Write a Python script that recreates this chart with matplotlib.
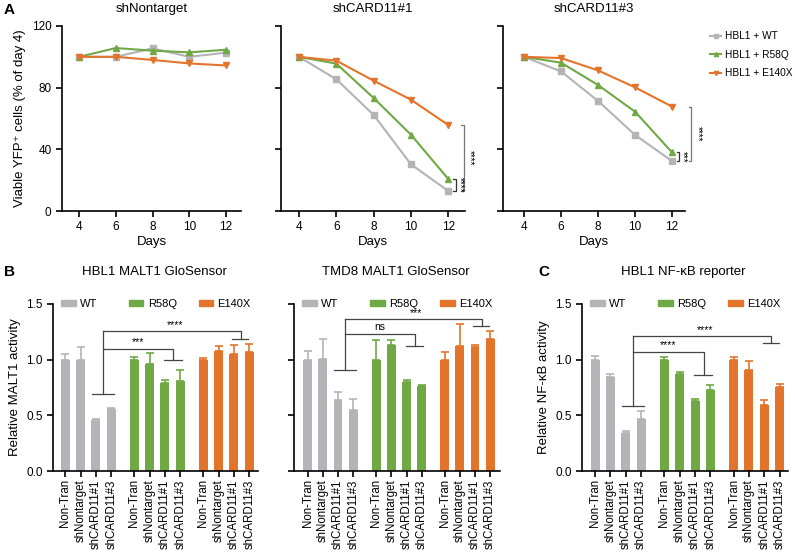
import matplotlib

matplotlib.use("Agg")
import matplotlib.pyplot as plt
from matplotlib.legend import Legend
from matplotlib.lines import Line2D
from matplotlib.patches import Patch

plt.rcParams["font.family"] = ["Liberation Sans", "DejaVu Sans"]
plt.rcParams["font.size"] = 8.5

GRAY = "#b4b4b8"
GREEN = "#6fa845"
ORANGE = "#e3742b"

# ---- panel A: viability time course ----
days = [4, 6, 8, 10, 12]
a_titles = ["shNontarget", "shCARD11#1", "shCARD11#3"]
a_wt = [
    [100, 100, 105.5, 100, 102.7],
    [100, 85.4, 62.3, 30.3, 13.0],
    [100, 90.5, 71.4, 49.3, 32.4],
]
a_r58q = [
    [100, 105.7, 104, 102.9, 104.6],
    [100, 95.6, 73.3, 49.5, 20.8],
    [100, 96.2, 81.7, 64.4, 38.0],
]
a_e140x = [
    [100, 100, 98, 95.7, 94.4],
    [100, 97.5, 84.5, 72.2, 55.8],
    [100, 99.2, 91.2, 80.2, 67.7],
]
a_series_names = ["HBL1 + WT", "HBL1 + R58Q", "HBL1 + E140X"]
# significance at day 12: (inner label, outer label) per panel, None = no bracket
a_sig = [None, ("****", "****"), ("***", "****")]

# ---- panels B / C: reporter bars ----
bar_labels = ["Non-Tran", "shNontarget", "shCARD11#1", "shCARD11#3"] * 3
groups = ["WT", "R58Q", "E140X"]
bar_pos = [0, 1, 2, 3, 4.5, 5.5, 6.5, 7.5, 9, 10, 11, 12]

b1_vals = [1.0, 1.0, 0.46, 0.56, 1.0, 0.965, 0.79, 0.81, 1.0, 1.075, 1.05, 1.065]
b1_tops = [1.05, 1.11, 0.47, 0.565, 1.02, 1.06, 0.815, 0.91, 1.015, 1.12, 1.135, 1.14]
b2_vals = [1.0, 1.01, 0.64, 0.55, 1.0, 1.13, 0.8, 0.76, 1.0, 1.12, 1.11, 1.19]
b2_tops = [1.075, 1.19, 0.71, 0.647, 1.174, 1.174, 0.82, 0.772, 1.07, 1.317, 1.129, 1.257]
c_vals = [1.0, 0.845, 0.34, 0.465, 1.0, 0.87, 0.63, 0.725, 1.0, 0.91, 0.595, 0.755]
c_tops = [1.035, 0.87, 0.36, 0.537, 1.02, 0.888, 0.651, 0.774, 1.027, 0.99, 0.636, 0.777]

# bracket levels: (WT cap, inner level, inner target cap, outer level, outer target cap)
b1_brk = (0.69, 1.10, 1.0, 1.257, 1.19)
b2_brk = (0.904, 1.234, 1.123, 1.362, 1.30)
c_brk = (0.588, 1.07, 0.858, 1.21, 1.15)
b1_sig = ("***", "****")
b2_sig = ("ns", "***")
c_sig = ("****", "****")

W, H = 795, 553


def px_axes(fig, left, right, top, bottom):
    return fig.add_axes([left / W, 1 - bottom / H, (right - left) / W, (bottom - top) / H])


def style_axes(ax):
    for side in ("top", "right"):
        ax.spines[side].set_visible(False)
    for side in ("left", "bottom"):
        ax.spines[side].set_linewidth(1.2)
    ax.tick_params(width=1.2, length=4, labelsize=8.5)


def line_panel(ax, i, xlim):
    style_axes(ax)
    ax.plot(days, a_wt[i], color=GRAY, marker="s", ms=4, lw=1.5)
    ax.plot(days, a_r58q[i], color=GREEN, marker="^", ms=4, lw=1.5)
    ax.plot(days, a_e140x[i], color=ORANGE, marker="v", ms=4, lw=1.5)
    ax.set_xlim(*xlim)
    ax.set_ylim(0, 120)
    ax.set_xticks(days)
    ax.set_yticks([0, 40, 80, 120])
    ax.set_xlabel("Days", fontsize=9.5, labelpad=2)
    ax.set_title(a_titles[i], fontsize=9.5, pad=10)
    if i == 0:
        ax.set_ylabel("Viable YFP\u207a cells (% of day 4)", fontsize=9.5)
    else:
        ax.set_yticklabels([])
    if a_sig[i] is None:
        return
    inner, outer = a_sig[i]
    lo = a_wt[i][-1]
    mid = a_r58q[i][-1]
    hi = a_e140x[i][-1]
    x_in = 12.4
    x_out = 12.85 if i == 1 else 13.05
    kw = dict(clip_on=False, lw=0.9)
    ax.plot([x_in - 0.15, x_in, x_in, x_in - 0.15], [mid, mid, lo, lo], color="#333333", **kw)
    ax.plot([x_out - 0.15, x_out, x_out, x_out - 0.15], [hi, hi, lo, lo], color="#777777", **kw)
    ax.text(x_in + 0.2, (lo + mid) / 2, inner, rotation=270, ha="center", va="center",
            fontsize=7, clip_on=False)
    ax.text(x_out + 0.32, (lo + hi) / 2, outer, rotation=270, ha="center", va="center",
            fontsize=7, clip_on=False)


def bar_panel(ax, vals, tops, brk, sig, xlim, ylabel=None):
    style_axes(ax)
    colors = [GRAY] * 4 + [GREEN] * 4 + [ORANGE] * 4
    ax.bar(bar_pos, vals, width=0.58, color=colors, zorder=2)
    for x, v, t, c in zip(bar_pos, vals, tops, colors):
        ax.errorbar([x], [v], yerr=[[0], [t - v]], fmt="none", ecolor=c,
                    capsize=3, elinewidth=1.2, capthick=1.2, zorder=1)
    ax.set_xlim(*xlim)
    ax.set_ylim(0, 1.5)
    ax.set_yticks([0, 0.5, 1.0, 1.5])
    ax.set_xticks(bar_pos)
    ax.set_xticklabels(bar_labels, rotation=90, fontsize=8.3)
    ax.tick_params(axis="x", pad=2)
    if ylabel:
        ax.set_ylabel(ylabel, fontsize=9.5)
    else:
        ax.set_yticklabels([])

    wt_cap, in_lvl, in_cap, out_lvl, out_cap = brk
    kw = dict(color="#444444", lw=0.9, clip_on=False)
    x_wt, x_r, x_e = 2.45, 7.05, 11.45
    ax.plot([1.75, 3.15], [wt_cap, wt_cap], **kw)
    ax.plot([x_wt, x_wt], [wt_cap, out_lvl], **kw)
    ax.plot([x_wt, x_r, x_r], [in_lvl, in_lvl, in_cap], **kw)
    ax.plot([6.45, 7.6], [in_cap, in_cap], **kw)
    ax.plot([x_wt, x_e, x_e], [out_lvl, out_lvl, out_cap], **kw)
    ax.plot([10.9, 11.95], [out_cap, out_cap], **kw)
    ax.text((x_wt + x_r) / 2, in_lvl + 0.015, sig[0], ha="center", va="bottom", fontsize=7.5)
    ax.text((x_wt + x_e) / 2 + 0.2, out_lvl + 0.01, sig[1], ha="center", va="bottom",
            fontsize=7.5)

    # one legend entry per group, spread along the top of the axes
    for name, c, fx in zip(groups, (GRAY, GREEN, ORANGE), (0.04, 0.37, 0.71)):
        leg = Legend(ax, [Patch(color=c)], [name], loc="center left",
                     bbox_to_anchor=(fx, 1.0), frameon=False, handlelength=1.3,
                     handleheight=0.55, handletextpad=0.4, fontsize=8,
                     borderaxespad=0, borderpad=0)
        ax.add_artist(leg)


fig = plt.figure(figsize=(W / 100, H / 100), dpi=100)

ax_a1 = px_axes(fig, 62, 241, 26, 211)
ax_a2 = px_axes(fig, 281, 465, 26, 211)
ax_a3 = px_axes(fig, 503, 685, 26, 211)
line_panel(ax_a1, 0, (3.07, 12.82))
line_panel(ax_a2, 1, (3.03, 12.9))
line_panel(ax_a3, 2, (2.86, 12.7))

legend_handles = [
    Line2D([], [], color=GRAY, marker="s", ms=3, lw=1.5),
    Line2D([], [], color=GREEN, marker="^", ms=3, lw=1.5),
    Line2D([], [], color=ORANGE, marker="v", ms=3, lw=1.5),
]
fig.legend(legend_handles, a_series_names, loc="upper left",
           bbox_to_anchor=(705 / W, 1 - 26 / H), frameon=False, fontsize=7.3,
           handlelength=1.1, labelspacing=0.85, handletextpad=0.4, borderpad=0)

ax_b1 = px_axes(fig, 53, 258, 304, 471)
ax_b2 = px_axes(fig, 294, 500, 304, 471)
ax_c = px_axes(fig, 582, 788, 304, 471)
bar_panel(ax_b1, b1_vals, b1_tops, b1_brk, b1_sig, (-0.8, 12.57), "Relative MALT1 activity")
bar_panel(ax_b2, b2_vals, b2_tops, b2_brk, b2_sig, (-0.9, 12.65))
bar_panel(ax_c, c_vals, c_tops, c_brk, c_sig, (-0.85, 12.54), "Relative NF-\u03baB activity")

fig.text(154 / W, 1 - 272 / H, "HBL1 MALT1 GloSensor", ha="center", va="center", fontsize=9.5)
fig.text(396 / W, 1 - 272 / H, "TMD8 MALT1 GloSensor", ha="center", va="center", fontsize=9.5)
fig.text(683 / W, 1 - 272 / H, "HBL1 NF-\u03baB reporter", ha="center", va="center", fontsize=9.5)

for label, x, y in (("A", 4, 10), ("B", 4, 272), ("C", 538, 272)):
    fig.text(x / W, 1 - y / H, label, ha="left", va="center", fontsize=11, fontweight="bold")

fig.savefig("out.png", dpi=100)
